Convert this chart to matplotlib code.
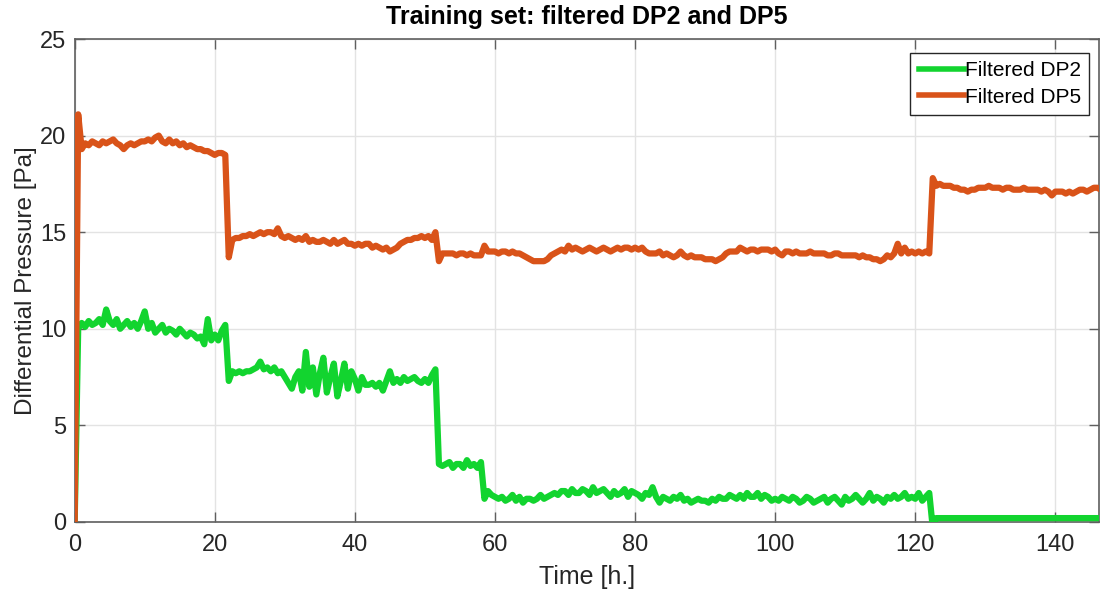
import numpy as np
import matplotlib
matplotlib.use("Agg")
import matplotlib.pyplot as plt

# Sampling grid (hours), 0.5 h step
time_h = np.arange(0, 147, 0.5)

# Filtered DP5 [Pa], two samples per hour (t, t+0.5)
dp5 = [
    0.0, 21.1, 19.3, 19.6, 19.5, 19.7, 19.6, 19.5, 19.7, 19.6,   # 0-4.5
    19.7, 19.8, 19.6, 19.5, 19.3, 19.5, 19.6, 19.5, 19.6, 19.7,  # 5-9.5
    19.7, 19.8, 19.7, 19.9, 20.0, 19.7, 19.6, 19.8, 19.6, 19.7,  # 10-14.5
    19.5, 19.6, 19.4, 19.5, 19.4, 19.3, 19.3, 19.2, 19.2, 19.1,  # 15-19.5
    19.0, 19.1, 19.1, 19.0, 13.7, 14.6, 14.7, 14.7, 14.8, 14.8,  # 20-24.5
    14.9, 14.8, 14.9, 15.0, 14.9, 15.0, 15.0, 14.9, 15.2, 14.8,  # 25-29.5
    14.7, 14.8, 14.7, 14.6, 14.7, 14.6, 14.8, 14.5, 14.6, 14.5,  # 30-34.5
    14.5, 14.6, 14.5, 14.4, 14.6, 14.4, 14.5, 14.6, 14.4, 14.4,  # 35-39.5
    14.3, 14.4, 14.3, 14.4, 14.4, 14.2, 14.3, 14.2, 14.1, 14.2,  # 40-44.5
    14.0, 14.1, 14.2, 14.4, 14.5, 14.6, 14.6, 14.7, 14.7, 14.8,  # 45-49.5
    14.7, 14.8, 14.6, 15.0, 13.5, 13.9, 13.9, 13.9, 13.9, 13.8,  # 50-54.5
    13.9, 13.9, 13.8, 13.9, 13.8, 13.8, 13.8, 14.3, 14.0, 14.0,  # 55-59.5
    14.0, 13.9, 14.0, 14.0, 13.9, 14.0, 13.9, 13.9, 13.8, 13.7,  # 60-64.5
    13.6, 13.5, 13.5, 13.5, 13.5, 13.6, 13.8, 13.9, 14.0, 14.1,  # 65-69.5
    14.0, 14.3, 14.1, 14.2, 14.1, 14.0, 14.1, 14.2, 14.1, 14.0,  # 70-74.5
    14.1, 14.2, 14.1, 14.0, 14.1, 14.2, 14.1, 14.2, 14.2, 14.1,  # 75-79.5
    14.2, 14.1, 14.2, 14.0, 13.9, 13.9, 13.9, 14.0, 13.8, 13.9,  # 80-84.5
    13.8, 13.7, 13.8, 14.0, 13.8, 13.7, 13.8, 13.7, 13.7, 13.7,  # 85-89.5
    13.6, 13.6, 13.6, 13.5, 13.6, 13.7, 13.9, 14.0, 14.0, 14.0,  # 90-94.5
    14.2, 14.1, 14.0, 14.1, 14.1, 14.0, 14.1, 14.1, 14.1, 14.0,  # 95-99.5
    14.1, 13.9, 13.8, 14.0, 14.0, 13.9, 14.0, 13.9, 13.9, 13.9,  # 100-104.5
    14.0, 13.9, 13.9, 13.9, 13.9, 13.8, 13.8, 13.9, 13.9, 13.8,  # 105-109.5
    13.8, 13.8, 13.8, 13.8, 13.7, 13.8, 13.7, 13.7, 13.6, 13.6,  # 110-114.5
    13.5, 13.6, 13.8, 13.7, 13.9, 14.4, 13.9, 14.2, 13.9, 14.0,  # 115-119.5
    13.9, 14.0, 13.9, 14.0, 13.9, 17.8, 17.4, 17.5, 17.4, 17.4,  # 120-124.5
    17.4, 17.3, 17.3, 17.2, 17.2, 17.1, 17.2, 17.2, 17.3, 17.3,  # 125-129.5
    17.3, 17.4, 17.3, 17.3, 17.3, 17.2, 17.3, 17.3, 17.2, 17.2,  # 130-134.5
    17.2, 17.3, 17.2, 17.2, 17.2, 17.2, 17.1, 17.2, 17.1, 16.9,  # 135-139.5
    17.1, 17.1, 17.1, 17.0, 17.1, 17.0, 17.1, 17.2, 17.2, 17.1,  # 140-144.5
    17.2, 17.3, 17.3, 17.2,                                      # 145-146.5
]

# Filtered DP2 [Pa], two samples per hour (t, t+0.5)
dp2 = [
    0.0, 10.0, 10.3, 10.1, 10.4, 10.2, 10.3, 10.5, 10.2, 11.0,   # 0-4.5
    10.4, 10.2, 10.5, 10.0, 10.2, 10.4, 10.1, 10.3, 10.0, 10.4,  # 5-9.5
    10.9, 10.0, 10.3, 9.8, 10.0, 10.2, 9.8, 10.0, 9.9, 9.7,      # 10-14.5
    10.0, 9.8, 9.6, 9.8, 9.7, 9.5, 9.6, 9.2, 10.5, 9.4,          # 15-19.5
    9.7, 9.4, 9.9, 10.2, 7.3, 7.8, 7.7, 7.8, 7.7, 7.8,           # 20-24.5
    7.8, 7.9, 8.0, 8.3, 7.9, 8.0, 7.8, 8.0, 7.7, 7.8,            # 25-29.5
    7.5, 7.2, 6.9, 7.5, 7.8, 6.8, 8.8, 7.0, 8.0, 6.6,            # 30-34.5
    7.7, 8.5, 6.7, 7.5, 8.2, 6.5, 7.3, 8.2, 6.9, 7.8,            # 35-39.5
    7.4, 6.8, 7.5, 7.1, 7.1, 7.2, 7.0, 7.2, 6.8, 7.3,            # 40-44.5
    7.8, 7.2, 7.4, 7.2, 7.5, 7.3, 7.4, 7.5, 7.3, 7.2,            # 45-49.5
    7.4, 7.2, 7.6, 7.9, 3.0, 2.9, 3.0, 3.1, 2.8, 3.0,            # 50-54.5
    3.0, 2.8, 3.2, 2.9, 3.0, 2.8, 3.1, 1.2, 1.6, 1.4,            # 55-59.5
    1.3, 1.2, 1.3, 1.1, 1.2, 1.4, 1.1, 1.3, 1.0, 1.2,            # 60-64.5
    1.2, 1.1, 1.2, 1.4, 1.2, 1.3, 1.4, 1.5, 1.4, 1.6,            # 65-69.5
    1.6, 1.4, 1.7, 1.5, 1.5, 1.7, 1.6, 1.4, 1.8, 1.5,            # 70-74.5
    1.6, 1.7, 1.5, 1.3, 1.6, 1.4, 1.5, 1.7, 1.3, 1.6,            # 75-79.5
    1.5, 1.4, 1.2, 1.5, 1.4, 1.8, 1.3, 1.0, 1.3, 1.2,            # 80-84.5
    1.1, 1.3, 1.2, 1.4, 1.1, 1.2, 1.0, 1.1, 1.2, 1.1,            # 85-89.5
    1.1, 1.0, 1.2, 1.1, 1.3, 1.2, 1.2, 1.4, 1.3, 1.2,            # 90-94.5
    1.4, 1.2, 1.5, 1.3, 1.3, 1.5, 1.2, 1.4, 1.3, 1.1,            # 95-99.5
    1.2, 1.1, 1.3, 1.2, 1.1, 1.3, 1.2, 1.0, 1.1, 1.3,            # 100-104.5
    1.2, 1.0, 1.1, 1.2, 1.3, 1.0, 1.2, 1.3, 1.1, 0.9,            # 105-109.5
    1.3, 1.1, 1.2, 1.4, 1.2, 1.0, 1.2, 1.5, 1.1, 1.3,            # 110-114.5
    1.2, 1.0, 1.3, 1.2, 1.4, 1.2, 1.3, 1.5, 1.2, 1.3,            # 115-119.5
    1.2, 1.5, 1.1, 1.3, 1.5, -0.3, 0.2, 0.2, 0.2, 0.2,           # 120-124.5
    0.2, 0.2, 0.2, 0.2, 0.2, 0.2, 0.2, 0.2, 0.2, 0.2,            # 125-129.5
    0.2, 0.2, 0.2, 0.2, 0.2, 0.2, 0.2, 0.2, 0.2, 0.2,            # 130-134.5
    0.2, 0.2, 0.2, 0.2, 0.2, 0.2, 0.2, 0.2, 0.2, 0.2,            # 135-139.5
    0.2, 0.2, 0.2, 0.2, 0.2, 0.2, 0.2, 0.2, 0.2, 0.2,            # 140-144.5
    0.2, 0.2, 0.2, 0.2,                                          # 145-146.5
]

x_ticks = [0, 20, 40, 60, 80, 100, 120, 140]
y_ticks = [0, 5, 10, 15, 20, 25]
series_labels = ["Filtered DP2", "Filtered DP5"]

plt.rcParams['font.family'] = ['Liberation Sans', 'DejaVu Sans']

fig = plt.figure(figsize=(11.03, 5.91), dpi=100)
ax = fig.add_axes([0.0677, 0.1168, 0.9291, 0.8172])

green = '#12D42F'
orange = '#D95319'
ax.plot(time_h, dp2, color=green, lw=4.5, label=series_labels[0], zorder=3)
ax.plot(time_h, dp5, color=orange, lw=4.5, label=series_labels[1], zorder=4)

ax.set_xlim(0, 146.3)
ax.set_ylim(0, 25)
ax.set_xticks(x_ticks)
ax.set_yticks(y_ticks)
ax.grid(True, color='#e3e3e3', lw=1.0)
ax.set_axisbelow(True)
for s in ax.spines.values():
    s.set_color('#5f5f5f')
    s.set_linewidth(1.2)
ax.tick_params(direction='in', length=7, width=1, color='#5f5f5f',
               labelcolor='#262626', labelsize=17, top=True, right=True)
ax.tick_params(axis='x', pad=9)
ax.tick_params(axis='y', pad=6)

ax.set_xlabel('Time [h.]', fontsize=18, color='#262626', labelpad=6)
ax.set_ylabel('Differential Pressure [Pa]', fontsize=17.5, color='#262626', labelpad=2)
ax.set_title('Training set: filtered DP2 and DP5', fontsize=18, fontweight='bold', pad=11)

leg = ax.legend(loc='upper right', bbox_to_anchor=(0.9898, 0.971), borderaxespad=0,
                fontsize=15, frameon=True, fancybox=False, framealpha=1,
                edgecolor='#262626', handlelength=2.15, handletextpad=0.05,
                borderpad=0.4, labelspacing=0.35)
leg.get_frame().set_linewidth(1.0)
for line in leg.get_lines():
    line.set_linewidth(4)

fig.savefig('out.png', dpi=100)
